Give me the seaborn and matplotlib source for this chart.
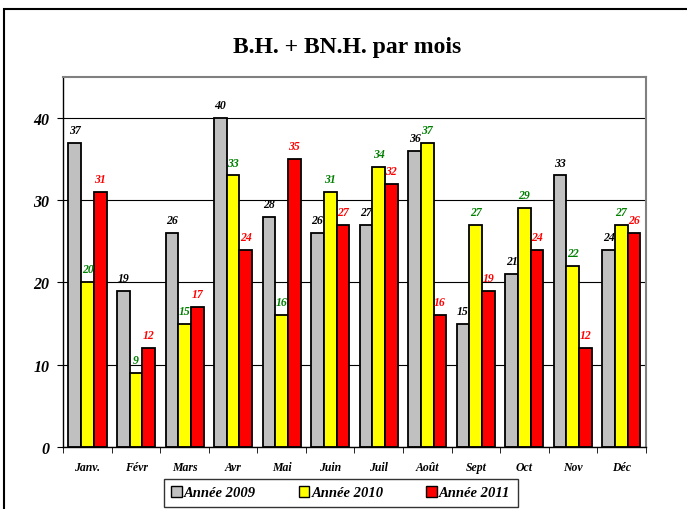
import numpy as np
import pandas as pd
import matplotlib
matplotlib.use("Agg")
import matplotlib.pyplot as plt
import matplotlib.patches as mpatches
import seaborn as sns

# data
months = ['Janv.', 'Févr', 'Mars', 'Avr', 'Mai', 'Juin', 'Juil', 'Août', 'Sept', 'Oct', 'Nov', 'Déc']
y2009 = [37, 19, 26, 40, 28, 26, 27, 36, 15, 21, 33, 24]
y2010 = [20, 9, 15, 33, 16, 31, 34, 37, 27, 29, 22, 27]
y2011 = [31, 12, 17, 24, 35, 27, 32, 16, 19, 24, 12, 26]
series = ['Année 2009', 'Année 2010', 'Année 2011']
bar_colors = ['#c0c0c0', '#ffff00', '#ff0000']
label_colors = ['#000000', '#008000', '#ff0000']

df = pd.DataFrame({
    'Mois': months * 3,
    'Valeur': y2009 + y2010 + y2011,
    'Série': [series[0]] * 12 + [series[1]] * 12 + [series[2]] * 12,
})

sns.set_style('white')
plt.rcParams['font.family'] = ['Liberation Serif', 'DejaVu Serif']
plt.rcParams['text.color'] = 'black'
plt.rcParams['xtick.color'] = 'black'
plt.rcParams['ytick.color'] = 'black'

fig = plt.figure(figsize=(6.87, 5.10), dpi=100)
ax = fig.add_axes([0.0921, 0.1216, 0.8477, 0.726])

sns.barplot(data=df, x='Mois', y='Valeur', hue='Série', order=months,
            hue_order=series, palette=bar_colors, saturation=1, width=0.785,
            edgecolor='black', linewidth=1.3, ax=ax, legend=False)

for cont, col in zip(ax.containers, label_colors):
    ax.bar_label(cont, fmt='%d', padding=5, color=col, fontsize=8.5,
                 fontstyle='italic', fontweight='bold')

ax.set_ylim(0, 45)
ax.set_xlim(-0.5, 11.5)
ax.set_yticks([0, 10, 20, 30, 40])
ax.yaxis.grid(True, color='black', linewidth=0.8)
ax.set_axisbelow(True)
for sp in ['top', 'right']:
    ax.spines[sp].set_color('#808080')
    ax.spines[sp].set_linewidth(1.5)
for sp in ['left', 'bottom']:
    ax.spines[sp].set_color('black')
    ax.spines[sp].set_linewidth(1.0)

ax.set_xticks(np.arange(-0.5, 12, 1), minor=True)
ax.tick_params(axis='x', which='major', length=0, pad=10)
ax.tick_params(axis='x', which='minor', length=4, direction='out', color='black')
ax.tick_params(axis='y', length=4, direction='out', color='black', pad=6)
ax.xaxis.set_ticks_position('bottom')
ax.yaxis.set_ticks_position('left')
for lbl in ax.get_xticklabels():
    lbl.set_fontsize(8.5)
    lbl.set_fontstyle('italic')
    lbl.set_fontweight('bold')
for lbl in ax.get_yticklabels():
    lbl.set_fontsize(11.5)
    lbl.set_fontstyle('italic')
    lbl.set_fontweight('bold')
ax.set_xlabel('')
ax.set_ylabel('')

fig.suptitle('B.H. + BN.H. par mois', x=0.505, y=0.928, va='top',
             fontsize=17, fontweight='bold', color='black')

handles = [mpatches.Patch(facecolor=c, edgecolor='black', linewidth=1.0) for c in bar_colors]
leg = fig.legend(handles, series, loc='center', bbox_to_anchor=(0.496, 0.032), ncol=3,
                 frameon=True, fancybox=False, edgecolor='black', handlelength=0.75,
                 handleheight=0.75, handletextpad=0.15, columnspacing=2.9,
                 borderpad=0.5, prop={'style': 'italic', 'weight': 'bold', 'size': 10.5})
leg.get_frame().set_linewidth(1.0)

border = mpatches.Rectangle((4 / 687, -0.05), 1.0, (510 - 10) / 510 + 0.05,
                            transform=fig.transFigure, fill=False, edgecolor='black',
                            linewidth=1.5)
fig.patches.append(border)

fig.savefig('out.png', dpi=100)
